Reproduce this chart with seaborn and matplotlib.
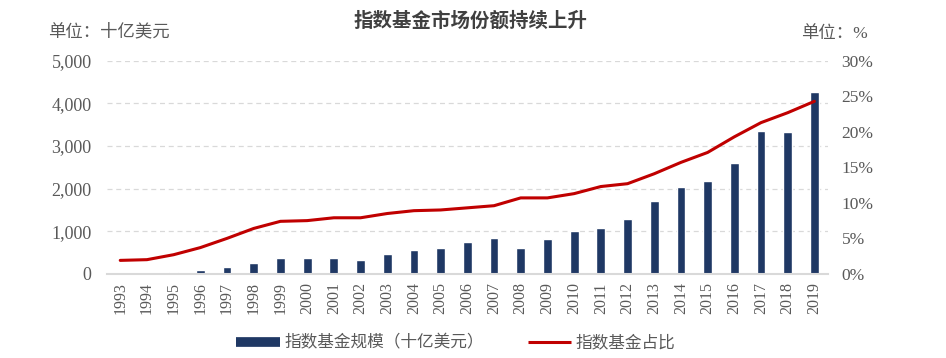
import numpy as np
import pandas as pd
import matplotlib
matplotlib.use("Agg")
import matplotlib.pyplot as plt
from matplotlib.lines import Line2D
from matplotlib.ticker import FuncFormatter
import seaborn as sns

# 数据
years = [str(y) for y in range(1993, 2020)]
fund_size = [5, 10, 50, 95, 165, 255, 375, 375, 375, 330, 455, 565, 610, 750, 845,
             600, 830, 1000, 1085, 1295, 1720, 2050, 2190, 2610, 3360, 3320, 4280]
fund_share = [1.9, 2.0, 2.7, 3.7, 5.0, 6.4, 7.4, 7.5, 7.9, 7.9, 8.5, 8.9, 9.0, 9.3, 9.6,
              10.7, 10.7, 11.3, 12.3, 12.7, 14.1, 15.7, 17.1, 19.3, 21.3, 22.7, 24.3]

title = "指数基金市场份额持续上升"
left_unit = "单位：十亿美元"
right_unit = "单位：%"
bar_label = "指数基金规模（十亿美元）"
line_label = "指数基金占比"

bar_color = "#1F3864"
line_color = "#C00000"
text_color = "#595959"
grid_color = "#D9D9D9"

sns.set_style("white")
plt.rcParams["font.family"] = ["Liberation Serif", "Noto Sans CJK SC", "DejaVu Sans"]

df = pd.DataFrame({"year": years, "size": fund_size, "share": fund_share})

fig = plt.figure(figsize=(9.46, 3.58), dpi=100)
ax = fig.add_axes([0.113, 0.235, 0.762, 0.595])

sns.barplot(data=df, x="year", y="size", color=bar_color, width=0.33,
            saturation=1, ax=ax)
ax.set_xlim(-0.5, len(years) - 0.5)
ax.set_ylim(0, 5000)
ax.set_yticks(np.arange(0, 5001, 1000))
ax.yaxis.set_major_formatter(FuncFormatter(lambda v, p: f"{int(v):,}"))
ax.set_xlabel("")
ax.set_ylabel("")
ax.grid(axis="y", color=grid_color, linestyle=(0, (4, 3)), linewidth=0.9)
ax.set_axisbelow(True)
ax.tick_params(axis="y", length=0, colors=text_color, labelsize=13, pad=11)
ax.tick_params(axis="x", length=0, colors=text_color, labelrotation=90,
               labelsize=11.5, pad=6)
for s in ["top", "right", "left"]:
    ax.spines[s].set_visible(False)
ax.spines["bottom"].set_color(grid_color)
ax.spines["bottom"].set_linewidth(1.5)

ax2 = ax.twinx()
sns.lineplot(x=np.arange(len(years)), y=fund_share, color=line_color,
             linewidth=2.2, ax=ax2)
ax2.set_ylim(0, 30)
ax2.set_yticks(np.arange(0, 31, 5))
ax2.yaxis.set_major_formatter(FuncFormatter(lambda v, p: f"{int(v)}%"))
ax2.tick_params(axis="y", length=0, colors=text_color, labelsize=12.5, pad=10)
for s in ["top", "right", "left", "bottom"]:
    ax2.spines[s].set_visible(False)

fig.text(0.497, 0.94, title, ha="center", va="center", fontsize=14,
         fontweight="bold", color="#404040")
fig.text(0.051, 0.91, left_unit, ha="left", va="center", fontsize=12.5,
         color=text_color)
fig.text(0.917, 0.905, right_unit, ha="right", va="center", fontsize=12.5,
         color=text_color)

handles = [Line2D([0], [0], color=bar_color, linewidth=7, solid_capstyle="butt"),
           Line2D([0], [0], color=line_color, linewidth=2.2, solid_capstyle="butt")]
fig.legend(handles, [bar_label, line_label], loc="center", ncol=2,
           bbox_to_anchor=(0.482, 0.04), frameon=False, fontsize=12,
           handlelength=2.6, handletextpad=0.3, columnspacing=2.6,
           labelcolor=text_color)

fig.savefig("out.png", dpi=100)
